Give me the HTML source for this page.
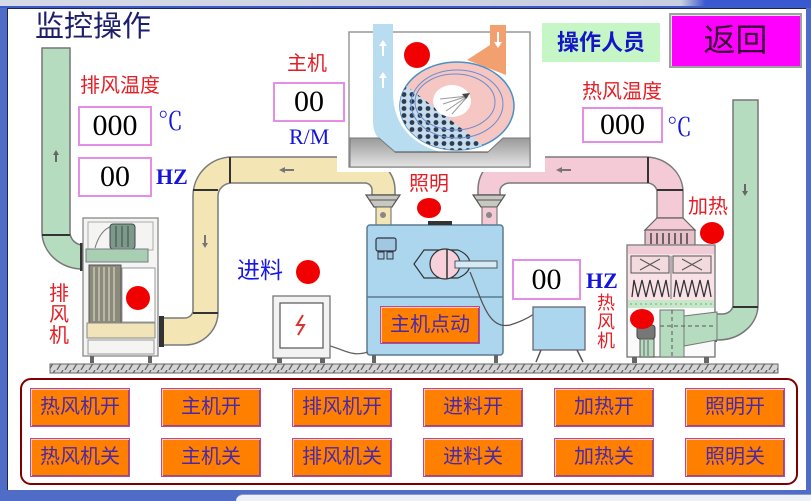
<!DOCTYPE html>
<html>
<head>
<meta charset="utf-8">
<style>
html,body{margin:0;padding:0;}
body{width:811px;height:500px;overflow:hidden;position:relative;background:#4f6cc6;font-family:"Liberation Sans","Noto Sans CJK SC",sans-serif;}
.a{position:absolute;white-space:nowrap;}
.red{color:#e41e26;font-size:20px;line-height:20px;}
.box{position:absolute;background:#fff;border:2px solid #e58ee8;box-sizing:border-box;text-align:center;font-family:"Liberation Serif",serif;color:#000;}
.unit{position:absolute;color:#1414dc;font-family:"Liberation Serif","Noto Serif CJK SC",serif;font-weight:bold;white-space:nowrap;}
.btn{position:absolute;width:100px;height:39px;box-sizing:border-box;background:#ff8000;border:1px solid #c2449e;box-shadow:inset 1px 1px 0 #ffd0a0, inset -1px -1px 0 #905070;color:#4a28a8;font-size:20px;line-height:37px;text-align:center;font-family:"Liberation Sans","Noto Sans CJK SC",sans-serif;}
</style>
</head>
<body>
<div class="a" style="left:0;top:0;width:811px;height:6px;background:linear-gradient(90deg,#d6dae6 0%,#c8cede 84%,#3a58d0 87%,#3a58d0 100%);"></div>
<div class="a" style="left:0;top:6px;width:811px;height:2px;background:#3c5ac8;"></div>
<div class="a" style="left:7px;top:8px;width:798px;height:481px;background:#fff;border-top:1px solid #1c2450;border-left:1px solid #1c2450;"></div>
<div class="a" style="left:236px;top:494px;width:575px;height:6px;background:#eef0f7;border-top:1px solid #8a98c8;border-top-left-radius:7px;"></div>

<svg class="a" style="left:0;top:0" width="811" height="500" viewBox="0 0 811 500" xmlns="http://www.w3.org/2000/svg">
<defs>
 <pattern id="hatch" width="8" height="10" patternUnits="userSpaceOnUse">
  <rect width="8" height="10" fill="#d4d4d4"/>
  <line x1="1" y1="10" x2="7" y2="0" stroke="#666" stroke-width="1.3"/>
 </pattern>
 <pattern id="dots" width="8" height="7" patternUnits="userSpaceOnUse">
  <rect width="8" height="7" fill="#c6dcec"/>
  <circle cx="4" cy="3.5" r="2.4" fill="#2c3c52"/>
 </pattern>
 <clipPath id="disc"><ellipse cx="457" cy="106" rx="57" ry="44"/></clipPath>
 <linearGradient id="gr" x1="0" y1="0" x2="0" y2="1">
  <stop offset="0" stop-color="#9a9a9a"/><stop offset="1" stop-color="#e4e4e4"/>
 </linearGradient>
</defs>

<rect x="50" y="364" width="728" height="9" fill="url(#hatch)" stroke="#666" stroke-width="1"/>

<path d="M42,48 H70 V232 A13,13 0 0 0 83,245 V269 A41,37 0 0 1 42,232 Z" fill="#b6dcbf" stroke="#777" stroke-width="1.5"/>
<line x1="42" y1="235" x2="70" y2="235" stroke="#333" stroke-width="2"/>
<rect x="80" y="243" width="5" height="28" fill="#333"/>
<path d="M56,150 l-3,5 h2 v7 h2 v-7 h2 z" fill="#666"/>

<path d="M733,100 H758 V305 A40,35 0 0 1 718,340 H715 V314 H722 A11,9 0 0 0 733,305 Z" fill="#b6dcbf" stroke="#777" stroke-width="1.5"/>
<line x1="733" y1="307" x2="758" y2="307" stroke="#333" stroke-width="2"/>
<rect x="713" y="312" width="4" height="30" fill="#555"/>
<path d="M745,196 l-3,-5 h2 v-7 h2 v7 h2 z" fill="#666"/>

<path d="M360,157 A35,33 0 0 1 395,190 V195 H372 V190 A7,7 0 0 0 365,183 H232 A14,13 0 0 0 218,196 V312 A33,33 0 0 1 185,345 H163 V318 H185 A8,8 0 0 0 193,310 V196 A39,39 0 0 1 232,157 Z" fill="#f3e6b4" stroke="#7a7a7a" stroke-width="1.5"/>
<line x1="230" y1="157" x2="230" y2="183" stroke="#333" stroke-width="2"/>
<line x1="193" y1="190" x2="218" y2="190" stroke="#333" stroke-width="2"/>
<line x1="193" y1="313" x2="218" y2="313" stroke="#333" stroke-width="2"/>
<rect x="159" y="316" width="5" height="31" fill="#333"/>
<path d="M279,170 l6,-3 v2 h9 v2 h-9 v2 z" fill="#777"/>
<path d="M205,248 l-3,-5 h2 v-8 h2 v8 h2 z" fill="#777"/>

<path d="M478,195 V190 A30,33 0 0 1 510,157 H645 A38,35 0 0 1 683,192 V218 H657 V192 A10,9 0 0 0 647,183 H510 A10,8 0 0 0 500,190 V195 Z" fill="#f4cad6" stroke="#7a7a7a" stroke-width="1.5"/>
<line x1="648" y1="157" x2="648" y2="183" stroke="#333" stroke-width="2"/>
<line x1="657" y1="190" x2="683" y2="190" stroke="#333" stroke-width="2"/>
<path d="M556,170 l6,-3 v2 h9 v2 h-9 v2 z" fill="#777"/>

<polygon points="366,195 400,195 392,207 374,207" fill="#c8c8c0" stroke="#555" stroke-width="1.2"/>
<line x1="369" y1="200" x2="397" y2="200" stroke="#555"/>
<rect x="376" y="207" width="15" height="18" fill="#f3e6b4" stroke="#666"/>
<circle cx="383" cy="215" r="3" fill="#888"/>
<polygon points="473,195 505,195 497,207 481,207" fill="#c8c8c0" stroke="#555" stroke-width="1.2"/>
<line x1="476" y1="200" x2="502" y2="200" stroke="#555"/>
<rect x="482" y="207" width="15" height="18" fill="#f4cad6" stroke="#666"/>
<circle cx="489" cy="215" r="3" fill="#888"/>

<rect x="367" y="225" width="136" height="130" rx="3" fill="#acd6ee" stroke="#5a7a90" stroke-width="1.5"/>
<line x1="367" y1="297" x2="503" y2="297" stroke="#5a7a90" stroke-width="1.5"/>
<rect x="428" y="221" width="24" height="4" fill="#333"/>
<rect x="376" y="238" width="20" height="13" rx="2" fill="#a0c8e0" stroke="#334" stroke-width="1.2"/>
<rect x="378" y="252" width="6" height="7" fill="#a0c8e0" stroke="#334"/>
<rect x="387" y="252" width="6" height="7" fill="#a0c8e0" stroke="#334"/>
<path d="M414,264 L424,250 H458 Q470,255 470,264 Q470,273 458,278 H424 Z" fill="#acd6ee" stroke="#333" stroke-width="1.2"/>
<circle cx="445" cy="264" r="15" fill="#f6d0da" stroke="#333" stroke-width="1.2"/>
<line x1="447" y1="249" x2="447" y2="279" stroke="#333" stroke-width="1.5"/>
<rect x="455" y="261" width="42" height="7" fill="#d4eaf6" stroke="#555"/>
<rect x="372" y="355" width="4" height="8" fill="#666"/>
<rect x="494" y="355" width="4" height="8" fill="#666"/>

<path d="M470,272 C482,300 488,330 510,325 C520,322 528,318 534,314" fill="none" stroke="#555" stroke-width="1.3"/>
<path d="M330,346 C345,350 352,357 368,352" fill="none" stroke="#666" stroke-width="1.3"/>

<rect x="533" y="307" width="52" height="43" fill="#acd6ee" stroke="#667" stroke-width="1.3"/>
<path d="M541,350 L536,362 M577,350 L583,362" stroke="#555" stroke-width="1.5"/>

<rect x="273" y="296" width="57" height="62" fill="#f2f2f2" stroke="#777" stroke-width="1.3"/>
<rect x="280" y="303" width="43" height="45" fill="#fff" stroke="#555" stroke-width="1.2"/>
<polyline points="303,315 297,325 304,325 298,335" fill="none" stroke="#e03030" stroke-width="2"/>
<rect x="277" y="358" width="5" height="5" fill="#666"/>
<rect x="320" y="358" width="5" height="5" fill="#666"/>

<rect x="83" y="218" width="75" height="138" fill="#f4f4f2" stroke="#888" stroke-width="1.3"/>
<rect x="88" y="222" width="65" height="28" fill="none" stroke="#aaa"/>
<path d="M95,248 Q100,230 112,226" fill="none" stroke="#777"/>
<rect x="110" y="224" width="25" height="25" rx="3" fill="#7c9a88" stroke="#445"/>
<line x1="116" y1="226" x2="116" y2="247" stroke="#445"/>
<line x1="122" y1="226" x2="122" y2="247" stroke="#445"/>
<line x1="128" y1="226" x2="128" y2="247" stroke="#445"/>
<rect x="86" y="249" width="62" height="13" fill="#a9cfb2" stroke="#778"/>
<rect x="89" y="265" width="32" height="58" fill="#8c8a7a" stroke="#555"/>
<path d="M94,267 V321 M99,267 V321 M104,267 V321 M109,267 V321 M114,267 V321" stroke="#c8c6b4" stroke-width="1.5"/>
<rect x="122" y="268" width="33" height="54" fill="#fff" stroke="#999"/>
<rect x="87" y="323" width="68" height="15" fill="#f0e4b8" stroke="#888"/>
<rect x="88" y="340" width="66" height="14" fill="#f4f4f2" stroke="#999"/>
<rect x="90" y="356" width="4" height="7" fill="#666"/>
<rect x="148" y="356" width="4" height="7" fill="#666"/>

<polygon points="657,218 683,218 695,230 645,230" fill="#f4cad6" stroke="#666" stroke-width="1.2"/>
<rect x="645" y="230" width="50" height="15" fill="#e8c0cc" stroke="#555"/>
<path d="M651,233 V244 M657,233 V244 M663,233 V244 M669,233 V244 M675,233 V244 M681,233 V244 M687,233 V244" stroke="#444" stroke-width="1.5"/>
<rect x="627" y="245" width="88" height="112" fill="#f8e2e8" stroke="#777" stroke-width="1.3"/>
<rect x="628" y="246" width="86" height="8" fill="#f0ccd6"/>
<rect x="631" y="256" width="38" height="17" fill="#f2dade" stroke="#555"/>
<rect x="673" y="256" width="38" height="17" fill="#f2dade" stroke="#555"/>
<path d="M640,259 L660,270 M660,259 L640,270 M682,259 L702,270 M702,259 L682,270" stroke="#555"/>
<path d="M632,297 L634,280 L638,297 L642,280 L646,297 L650,280 L654,297 L658,280 L662,297 L666,280 L669,297" fill="none" stroke="#333" stroke-width="1.3"/>
<path d="M674,297 L676,280 L680,297 L684,280 L688,297 L692,280 L696,297 L700,280 L704,297 L708,280 L711,297" fill="none" stroke="#333" stroke-width="1.3"/>
<line x1="671" y1="256" x2="671" y2="299" stroke="#777"/>
<rect x="628" y="300" width="86" height="8" fill="#c8e6c8"/>
<line x1="630" y1="304" x2="712" y2="304" stroke="#6a9" stroke-dasharray="2,3"/>
<rect x="628" y="308" width="86" height="48" fill="#fafafa"/>
<polygon points="684,316 717,312 717,340 684,346" fill="#b6dcbf" stroke="#777"/>
<rect x="660" y="310" width="24" height="47" fill="#b6dcbf" stroke="#777"/>
<line x1="660" y1="326" x2="715" y2="326" stroke="#555" stroke-dasharray="4,3"/>
<line x1="672" y1="310" x2="672" y2="357" stroke="#555" stroke-dasharray="4,3"/>
<rect x="637" y="325" width="18" height="14" rx="3" fill="#777" stroke="#444"/>
<rect x="640" y="339" width="14" height="18" fill="#b6dcbf" stroke="#555"/>
<path d="M644,340 V356 M648,340 V356" stroke="#666"/>
<rect x="632" y="357" width="5" height="6" fill="#666"/>
<rect x="704" y="357" width="5" height="6" fill="#666"/>

<rect x="337" y="24" width="208" height="148" fill="#fff"/>
<rect x="349" y="32" width="181" height="135" fill="#fff" stroke="#999" stroke-width="1.5"/>
<path d="M373,24 H393 V92 Q393,138 440,152 H395 L379,138 Q373,134 373,120 Z" fill="#b8dcf0"/>
<path d="M383,40 l-4,6 h3 v10 h2 v-10 h3 z" fill="#fff"/>
<path d="M383,72 l-4,6 h3 v10 h2 v-10 h3 z" fill="#fff"/>
<polygon points="490,25 506,25 506,75 488,68 467,60 490,45" fill="#f2a070"/>
<path d="M498,48 l-4,-6 h3 v-10 h2 v10 h3 z" fill="#fff"/>
<ellipse cx="457" cy="106" rx="57" ry="44" fill="#f6c6c2" stroke="#4a90c8" stroke-width="1.5"/>
<g clip-path="url(#disc)">
 <polygon points="390,78 404,84 492,152 390,152" fill="url(#dots)"/>
</g>
<ellipse cx="457" cy="104" rx="46" ry="34" fill="none" stroke="#6a8ed0" stroke-width="1"/>
<ellipse cx="455" cy="102" rx="40" ry="28" fill="none" stroke="#6a8ed0" stroke-width="1"/>
<ellipse cx="452" cy="101" rx="19" ry="16" fill="#fff"/>
<path d="M468,96 L443,104 M468,96 L446,111 M468,96 L452,114 M468,96 L440,99" stroke="#999" stroke-width="1"/>
<polygon points="462,94 470,93 466,99" fill="#444"/>
<polygon points="350,138 379,138 395,152 488,152 503,138 530,138 530,167 350,167" fill="url(#gr)" stroke="#777"/>
<line x1="395" y1="152" x2="488" y2="152" stroke="#444"/>

<circle cx="417" cy="55" r="13" fill="#f00000"/>
<ellipse cx="429" cy="208" rx="12" ry="10" fill="#f00000"/>
<ellipse cx="712" cy="233" rx="12" ry="11" fill="#f00000"/>
<circle cx="308" cy="272" r="12" fill="#f00000"/>
<circle cx="138" cy="298" r="12" fill="#f00000"/>
<ellipse cx="642" cy="319" rx="12" ry="10" fill="#f00000"/>

<rect x="21" y="379" width="776" height="105" rx="10" fill="#fff" stroke="#800000" stroke-width="2"/>
</svg>

<div class="a" style="left:35px;top:13px;font-size:29px;line-height:29px;color:#1e1e6e;">监控操作</div>

<div class="a red" style="left:80px;top:76px;">排风温度</div>
<div class="box" style="left:78px;top:106px;width:74px;height:40px;font-size:30px;line-height:36px;">000</div>
<div class="unit" style="left:158px;top:110px;font-size:25px;line-height:26px;font-weight:normal;">℃</div>
<div class="box" style="left:78px;top:157px;width:74px;height:40px;font-size:30px;line-height:36px;">00</div>
<div class="unit" style="left:156px;top:165px;font-size:22px;line-height:24px;">HZ</div>

<div class="a red" style="left:287px;top:54px;">主机</div>
<div class="box" style="left:273px;top:82px;width:72px;height:40px;font-size:30px;line-height:36px;">00</div>
<div class="unit" style="left:289px;top:126px;font-size:22px;line-height:22px;font-weight:normal;">R/M</div>

<div class="a" style="left:542px;top:23px;width:118px;height:39px;background:#c6f6c6;color:#1414c8;font-size:22px;line-height:39px;text-align:center;font-weight:bold;">操作人员</div>
<div class="a" style="left:669px;top:13px;width:133px;height:55px;box-sizing:border-box;background:#ff00ff;border:2px solid #a0a0a0;box-shadow:inset 1px 1px 0 #e0e0e0;color:#3a0038;font-size:32px;line-height:50px;text-align:center;">返回</div>

<div class="a red" style="left:582px;top:82px;">热风温度</div>
<div class="box" style="left:582px;top:107px;width:81px;height:36px;font-size:30px;line-height:32px;">000</div>
<div class="unit" style="left:667px;top:116px;font-size:25px;line-height:26px;font-weight:normal;">℃</div>

<div class="a red" style="left:409px;top:174px;">照明</div>
<div class="a red" style="left:688px;top:197px;">加热</div>
<div class="a" style="left:237px;top:259px;font-size:23px;line-height:23px;color:#1818e0;">进料</div>
<div class="a red" style="left:49px;top:284px;width:20px;line-height:21px;white-space:normal;">排<br>风<br>机</div>
<div class="a red" style="left:597px;top:294px;width:19px;font-size:18px;line-height:19px;white-space:normal;">热<br>风<br>机</div>

<div class="box" style="left:512px;top:259px;width:69px;height:41px;font-size:30px;line-height:37px;">00</div>
<div class="unit" style="left:586px;top:269px;font-size:22px;line-height:24px;">HZ</div>

<div class="btn" style="left:380px;top:306px;height:38px;line-height:36px;">主机点动</div>

<div class="btn" style="left:30px;top:388px;">热风机开</div>
<div class="btn" style="left:161px;top:388px;">主机开</div>
<div class="btn" style="left:292px;top:388px;">排风机开</div>
<div class="btn" style="left:423px;top:388px;">进料开</div>
<div class="btn" style="left:554px;top:388px;">加热开</div>
<div class="btn" style="left:685px;top:388px;">照明开</div>
<div class="btn" style="left:30px;top:438px;">热风机关</div>
<div class="btn" style="left:161px;top:438px;">主机关</div>
<div class="btn" style="left:292px;top:438px;">排风机关</div>
<div class="btn" style="left:423px;top:438px;">进料关</div>
<div class="btn" style="left:554px;top:438px;">加热关</div>
<div class="btn" style="left:685px;top:438px;">照明关</div>
</body>
</html>
